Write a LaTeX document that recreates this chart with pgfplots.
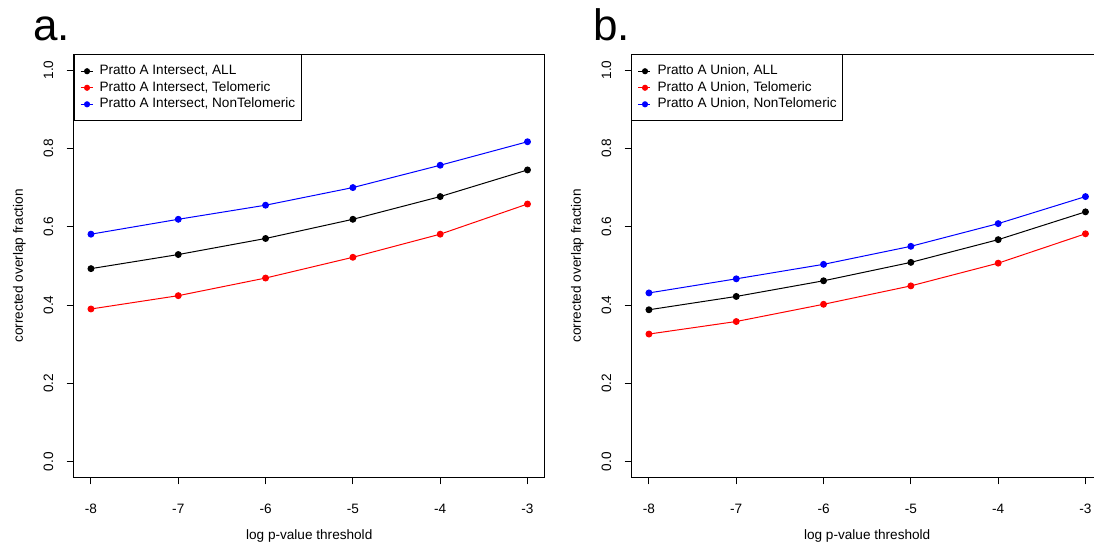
\documentclass[border=0pt]{standalone}
\usepackage{pgfplots}
\usepackage{pgfplotstable}
\pgfplotsset{compat=1.18}
\usepackage{fontspec}
\setmainfont{Liberation Sans}

\pgfplotstableread{
x   aall  atel  anon  ball  btel  bnon
-8  0.493 0.390 0.581 0.388 0.326 0.431
-7  0.529 0.424 0.619 0.422 0.358 0.467
-6  0.570 0.469 0.655 0.462 0.402 0.504
-5  0.619 0.522 0.700 0.509 0.449 0.550
-4  0.677 0.581 0.757 0.567 0.507 0.608
-3  0.745 0.658 0.817 0.638 0.582 0.677
}\data

\pgfplotsset{
  rstyle/.style={
    scale only axis, width=353.6pt, height=317.25pt,
    xmin=-8.2, xmax=-2.8, ymin=-0.04, ymax=1.04,
    xtick={-8,-7,-6,-5,-4,-3},
    ytick={0,0.2,0.4,0.6,0.8,1.0},
    /pgf/number format/assume math mode=true,
    yticklabel style={/pgf/number format/fixed, /pgf/number format/fixed zerofill, /pgf/number format/precision=1,
      xshift=-10pt, rotate=90, anchor=base},
    xticklabel style={anchor=base, yshift=-21.5pt},
    tick pos=left, tick align=outside, major tick length=5.2pt,
    tick style={black, line width=0.75pt},
    axis line style={line width=0.75pt},
    font=\fontsize{10.2}{12.2}\selectfont,
    xlabel={log p-value threshold},
    ylabel={corrected overlap fraction},
    xlabel style={at={([yshift=-46.2pt]axis description cs:0.5,0)}, anchor=base},
    ylabel style={at={([xshift=-37.9pt]axis description cs:0,0.5)}, anchor=base},
    legend cell align=left,
    legend image code/.code={\path (0pt,0pt) -- (9pt,0pt); \draw[##1, mark size=1.9pt] plot coordinates {(4.9pt,0pt)};},
    legend style={at={(rel axis cs:0,1)}, anchor=north west, draw=black, line width=0.75pt, fill=white,
      inner xsep=4.5pt, inner ysep=7pt, row sep=1.9pt,
      nodes={inner sep=0pt, text height=8pt, text depth=2.5pt},
      /tikz/every odd column/.append style={column sep=4.9pt},
      font=\fontsize{10.2}{12.2}\selectfont},
  },
  rline/.style={color=#1, mark=*, mark size=2.2pt, line width=0.75pt, mark options={solid}},
}

\begin{document}
\begin{tikzpicture}
\path[use as bounding box, clip] (0pt,0pt) rectangle (820.5pt,407.25pt);
\begin{axis}[rstyle, at={(55.125pt,49.2pt)}, anchor=south west]
  \addplot[rline=black] table[x=x, y=aall] {\data};
  \addlegendentry{Pratto A Intersect, ALL}
  \addplot[rline=red] table[x=x, y=atel] {\data};
  \addlegendentry{Pratto A Intersect, Telomeric}
  \addplot[rline=blue] table[x=x, y=anon] {\data};
  \addlegendentry{Pratto A Intersect, NonTelomeric}
\end{axis}
\begin{axis}[rstyle, at={(473.6pt,49.2pt)}, anchor=south west]
  \addplot[rline=black] table[x=x, y=ball] {\data};
  \addlegendentry{Pratto A Union, ALL}
  \addplot[rline=red] table[x=x, y=btel] {\data};
  \addlegendentry{Pratto A Union, Telomeric}
  \addplot[rline=blue] table[x=x, y=bnon] {\data};
  \addlegendentry{Pratto A Union, NonTelomeric}
\end{axis}
\node[anchor=base west, inner sep=0pt, font=\fontsize{33}{36}\selectfont] at (24.75pt,376.5pt) {a.};
\node[anchor=base west, inner sep=0pt, font=\fontsize{33}{36}\selectfont] at (444.75pt,376.5pt) {b.};
\end{tikzpicture}
\end{document}
